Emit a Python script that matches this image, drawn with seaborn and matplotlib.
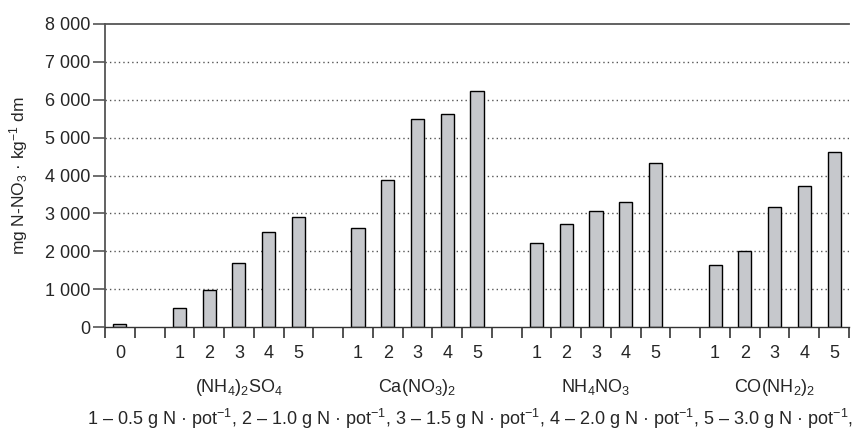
import matplotlib
matplotlib.use("Agg")
import matplotlib.pyplot as plt
import seaborn as sns
import pandas as pd
from matplotlib.ticker import FixedLocator, FuncFormatter

# ---- data ----
groups = [r"$\mathregular{(NH_4)_2SO_4}$", r"$\mathregular{Ca(NO_3)_2}$",
          r"$\mathregular{NH_4NO_3}$", r"$\mathregular{CO(NH_2)_2}$"]
doses = ["1", "2", "3", "4", "5"]
control = 90
nh4_2so4 = [510, 985, 1690, 2500, 2900]
ca_no3_2 = [2620, 3880, 5480, 5630, 6240]
nh4no3 = [2230, 2720, 3070, 3310, 4320]
co_nh2_2 = [1640, 2010, 3160, 3730, 4630]
y_ticks = [0, 1000, 2000, 3000, 4000, 5000, 6000, 7000, 8000]
footnote = (r"1 – 0.5 g N · pot$^{−1}$, 2 – 1.0 g N · pot$^{−1}$, "
            r"3 – 1.5 g N · pot$^{−1}$, 4 – 2.0 g N · pot$^{−1}$, "
            r"5 – 3.0 g N · pot$^{−1}$,")

# ---- build table with empty slots between groups ----
series = [nh4_2so4, ca_no3_2, nh4no3, co_nh2_2]
order, labels, rows = ["c0"], ["0"], [("c0", control)]
for gi, vals in enumerate(series):
    order.append(f"gap{gi}")
    labels.append("")
    for d, v in zip(doses, vals):
        key = f"g{gi}_{d}"
        order.append(key)
        labels.append(d)
        rows.append((key, v))
df = pd.DataFrame(rows, columns=["slot", "value"])

sns.set_style("white")
plt.rcParams["font.family"] = ["Liberation Sans", "DejaVu Sans"]
plt.rcParams["mathtext.fontset"] = "custom"
plt.rcParams["mathtext.rm"] = "Liberation Sans"
plt.rcParams["mathtext.it"] = "Liberation Sans"
plt.rcParams["mathtext.default"] = "regular"

fig = plt.figure(figsize=(8.66, 4.32), dpi=100)
ax = fig.add_axes([105 / 866, 1 - 327 / 432, (849 - 105) / 866, (327 - 24) / 432])

sns.barplot(data=df, x="slot", y="value", order=order, color="#c6c8cc",
            width=0.44, edgecolor="black", linewidth=1.0, saturation=1,
            errorbar=None, ax=ax)

n = len(order)
ax.set_xlim(-0.5, n - 0.5)
ax.set_ylim(0, 8000)

# grid
for y in y_ticks[1:-1]:
    ax.axhline(y, color="#555555", lw=1.0, ls=(0, (1, 2.2)), zorder=0)

# spines
for s in ["left", "top", "bottom"]:
    ax.spines[s].set_visible(True)
    ax.spines[s].set_color("#555555")
    ax.spines[s].set_linewidth(1.3)
ax.spines["right"].set_visible(False)
ax.spines["bottom"].set_color("#333333")
ax.spines["bottom"].set_linewidth(1.0)

# y ticks
ax.yaxis.set_major_locator(FixedLocator(y_ticks))
ax.yaxis.set_major_formatter(FuncFormatter(lambda v, p: f"{int(v):,}".replace(",", " ")))
ax.tick_params(axis="y", direction="out", length=9, width=1.2, color="#555555",
               labelsize=13, pad=1.5, left=True)

# x ticks: boundaries (major, no labels), centers (minor, labels)
ax.set_xticks([i - 0.5 for i in range(n + 1)])
ax.set_xticklabels([])
ax.set_xticks(list(range(n)), minor=True)
ax.set_xticklabels(labels, minor=True)
ax.tick_params(axis="x", which="major", direction="out", length=8, width=1.2,
               color="#333333", bottom=True)
ax.tick_params(axis="x", which="minor", length=0, labelsize=13, pad=13)
ax.set_xlabel("")

ax.set_ylabel(r"mg N-NO$_3$ · kg$^{−1}$ dm", fontsize=12.5)
ax.yaxis.set_label_coords(-0.101, 0.5)

# group labels
for gi, g in enumerate(groups):
    center = 2 + gi * 6 + 2
    ax.text(center, -0.2145, g, transform=ax.get_xaxis_transform(),
            ha="center", va="baseline", fontsize=13)

fig.text(470 / 866, 1 - 425 / 432, footnote, ha="center", va="baseline", fontsize=13)

fig.savefig("out.png", dpi=100)
